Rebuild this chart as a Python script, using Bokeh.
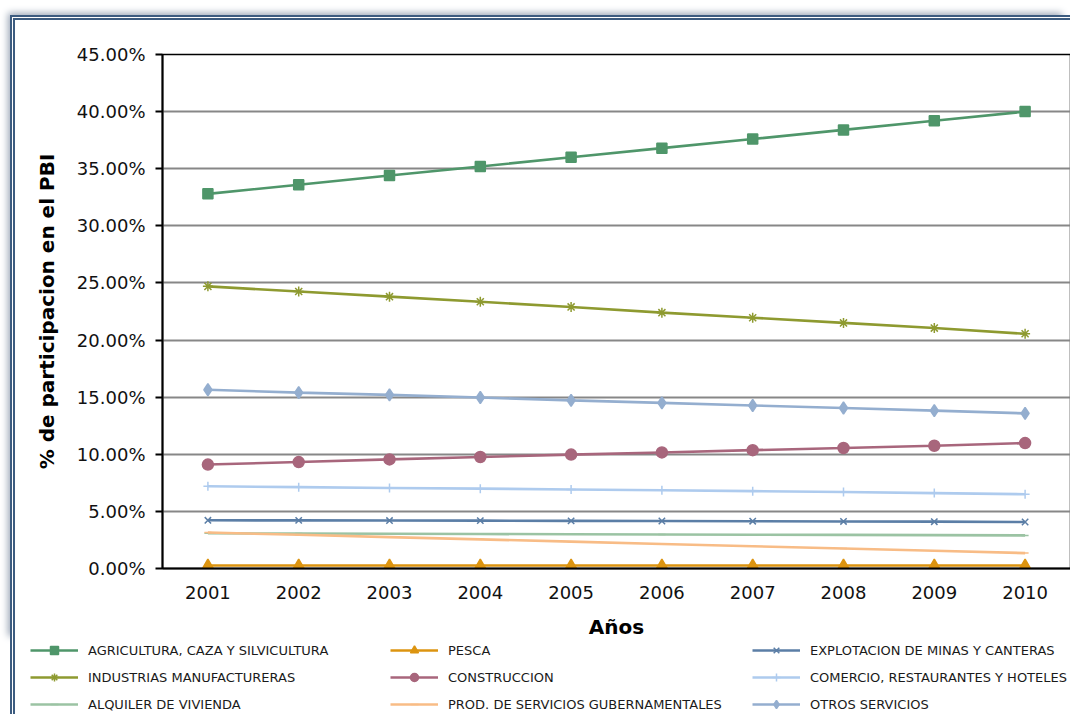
from bokeh.plotting import figure
from bokeh.models import (FactorRange, Range1d, Legend, LegendItem,
                          PrintfTickFormatter, FixedTicker)
from bokeh.embed import file_html
from bokeh.resources import INLINE

years = ["2001", "2002", "2003", "2004", "2005", "2006", "2007", "2008", "2009", "2010"]
y_ticks = [0, 5, 10, 15, 20, 25, 30, 35, 40, 45]

agricultura = [32.8, 33.6, 34.4, 35.2, 36.0, 36.8, 37.6, 38.4, 39.2, 40.0]
pesca = [0.26, 0.26, 0.26, 0.26, 0.26, 0.26, 0.26, 0.26, 0.26, 0.26]
explotacion = [4.22, 4.21, 4.20, 4.19, 4.17, 4.16, 4.14, 4.12, 4.10, 4.07]
industrias = [24.7, 24.25, 23.8, 23.35, 22.9, 22.4, 21.95, 21.5, 21.05, 20.55]
construccion = [9.10, 9.32, 9.55, 9.76, 9.97, 10.16, 10.36, 10.55, 10.75, 10.98]
comercio = [7.20, 7.12, 7.05, 6.99, 6.92, 6.85, 6.77, 6.70, 6.60, 6.50]
alquiler = [3.08, 3.06, 3.04, 3.02, 3.00, 2.98, 2.96, 2.94, 2.92, 2.90]
prod_gub = [3.15, 2.95, 2.75, 2.55, 2.35, 2.15, 1.95, 1.75, 1.55, 1.35]
otros = [15.65, 15.40, 15.20, 14.97, 14.72, 14.50, 14.27, 14.05, 13.82, 13.58]

FONT = "DejaVu Sans"
BORDER = "5px double #3D5C80"

p = figure(x_range=FactorRange(*years, range_padding=0), y_range=Range1d(0, 45),
           frame_width=908, frame_height=514,
           min_border_left=147, min_border_top=34, min_border_right=0, min_border_bottom=76,
           output_backend="svg", toolbar_location=None)

p.styles = {"margin-left": "10px", "margin-top": "15px",
            "border-left": BORDER, "border-top": BORDER,
            "box-shadow": "-5px -5px 7px -3px #9DA8B8"}

p.background_fill_color = "white"
p.border_fill_color = "white"
p.outline_line_color = "black"
p.outline_line_width = 1.5

p.xgrid.grid_line_color = None
p.ygrid.grid_line_color = "#878787"
p.ygrid.grid_line_width = 2

p.yaxis.ticker = FixedTicker(ticks=y_ticks)
p.yaxis.formatter = PrintfTickFormatter(format="%.2f%%")
p.yaxis.axis_line_width = 2
p.yaxis.major_tick_out = 7
p.yaxis.major_tick_in = 0
p.yaxis.major_tick_line_width = 2
p.yaxis.minor_tick_line_color = None
p.yaxis.major_label_standoff = 10
p.yaxis.axis_label = "% de participacion en el PBI"
p.yaxis.axis_label_standoff = 15

p.xaxis.axis_line_width = 2
p.xaxis.major_tick_line_color = None
p.xaxis.major_tick_out = 0
p.xaxis.major_tick_in = 0
p.xaxis.major_label_standoff = 17
p.xaxis.axis_label = "Años"
p.xaxis.axis_label_standoff = 13

for ax in (p.xaxis[0], p.yaxis[0]):
    ax.major_label_text_font = FONT
    ax.major_label_text_font_size = "18px"
    ax.major_label_text_color = "#111111"
    ax.axis_label_text_font = FONT
    ax.axis_label_text_font_size = "20px"
    ax.axis_label_text_font_style = "bold"
    ax.axis_label_text_color = "black"
    ax.axis_line_color = "black"

series = [
    ("AGRICULTURA, CAZA Y SILVICULTURA", agricultura, "#4F966A", "square", 10),
    ("PESCA", pesca, "#DC9410", "triangle", 11),
    ("EXPLOTACION DE MINAS Y CANTERAS", explotacion, "#5B7EA6", "x", 9),
    ("INDUSTRIAS MANUFACTURERAS", industrias, "#8E9A30", "asterisk", 10),
    ("CONSTRUCCION", construccion, "#A8667C", "circle", 11),
    ("COMERCIO, RESTAURANTES Y HOTELES", comercio, "#AECBEE", "cross", 9),
    ("ALQUILER DE VIVIENDA", alquiler, "#9BC3A3", "dash", 7),
    ("PROD. DE SERVICIOS GUBERNAMENTALES", prod_gub, "#F8BC86", "dash", 7),
    ("OTROS SERVICIOS", otros, "#94AECF", "diamond", 12),
]

# legend strip: a second canvas directly below the chart
p2 = figure(width=1055, height=70, x_range=FactorRange(*years), y_range=Range1d(100, 101),
            x_axis_type=None, y_axis_type=None, min_border=0,
            output_backend="svg", toolbar_location=None)
p2.styles = {"margin-left": "10px", "border-left": BORDER}
p2.grid.grid_line_color = None
p2.outline_line_color = None
p2.background_fill_color = "white"
p2.border_fill_color = "white"

order = [6, 7, 5, 2, 8, 4, 3, 0, 1]
items = {}
for i in order:
    name, vals, col, mk, sz = series[i]
    p.line(years, vals, line_color=col, line_width=2.6)
    p.scatter(years, vals, marker=mk, size=sz, fill_color=col, line_color=col, line_width=1.5)
    l1 = p2.line(years, vals, line_color=col, line_width=2.6, visible=False)
    l2 = p2.scatter(years, vals, marker=mk, size=sz, fill_color=col, line_color=col,
                    line_width=1.5, visible=False)
    items[i] = LegendItem(label=name, renderers=[l1, l2])

col_x = [15, 375, 737]
for c in range(3):
    leg = Legend(items=[items[c], items[c + 3], items[c + 6]], location=(col_x[c], 0),
                 orientation="vertical",
                 glyph_width=48, glyph_height=20, label_height=20, label_standoff=10,
                 spacing=7, padding=0, margin=0,
                 border_line_color=None, background_fill_alpha=0,
                 label_text_font=FONT, label_text_font_size="13px", label_text_color="#1a1a1a")
    p2.add_layout(leg, "center")

open("out.html", "w").write(file_html([p, p2], INLINE))
